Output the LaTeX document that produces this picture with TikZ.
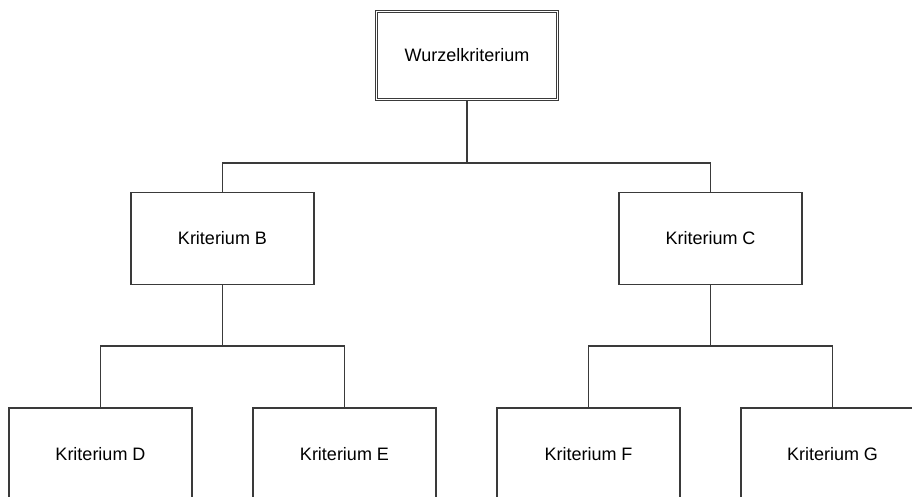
\documentclass[tikz,border=0pt]{standalone}
\usepackage{fontspec}
\setmainfont{Liberation Sans}
\definecolor{edge}{HTML}{3A3A3A}
\begin{document}
\begin{tikzpicture}[x=1pt,y=-1pt,
  box/.style={draw=edge,line width=1.5pt,fill=white,minimum width=183pt,minimum height=92pt,
    inner sep=0pt,font=\fontsize{18}{20}\selectfont},
  rootbox/.style={box,line width=1.1pt,double=white,double distance=1.7pt,
    minimum width=181pt,minimum height=88pt},
  link/.style={draw=edge,line width=1.5pt}]
  \useasboundingbox (0,0) rectangle (912,497);
  \clip (0,0) rectangle (912,497);

  % tree levels
  \node[rootbox] (root) at (467,55.5) {Wurzelkriterium};
  \node[box] (B) at (222.5,238.5) {Kriterium B};
  \node[box] (C) at (710.5,238.5) {Kriterium C};
  \node[box] (D) at (100.5,454) {Kriterium D};
  \node[box] (E) at (344.5,454) {Kriterium E};
  \node[box] (F) at (588.5,454) {Kriterium F};
  \node[box] (G) at (832.5,454) {Kriterium G};

  % junction points of the orthogonal connectors
  \coordinate (j0) at (467,163);
  \coordinate (jB) at (222.5,346);
  \coordinate (jC) at (710.5,346);

  \draw[link] (root.south) -- (j0) -| (B.north);
  \draw[link] (j0) -| (C.north);
  \draw[link] (B.south) -- (jB) -| (D.north);
  \draw[link] (jB) -| (E.north);
  \draw[link] (C.south) -- (jC) -| (F.north);
  \draw[link] (jC) -| (G.north);
\end{tikzpicture}
\end{document}
